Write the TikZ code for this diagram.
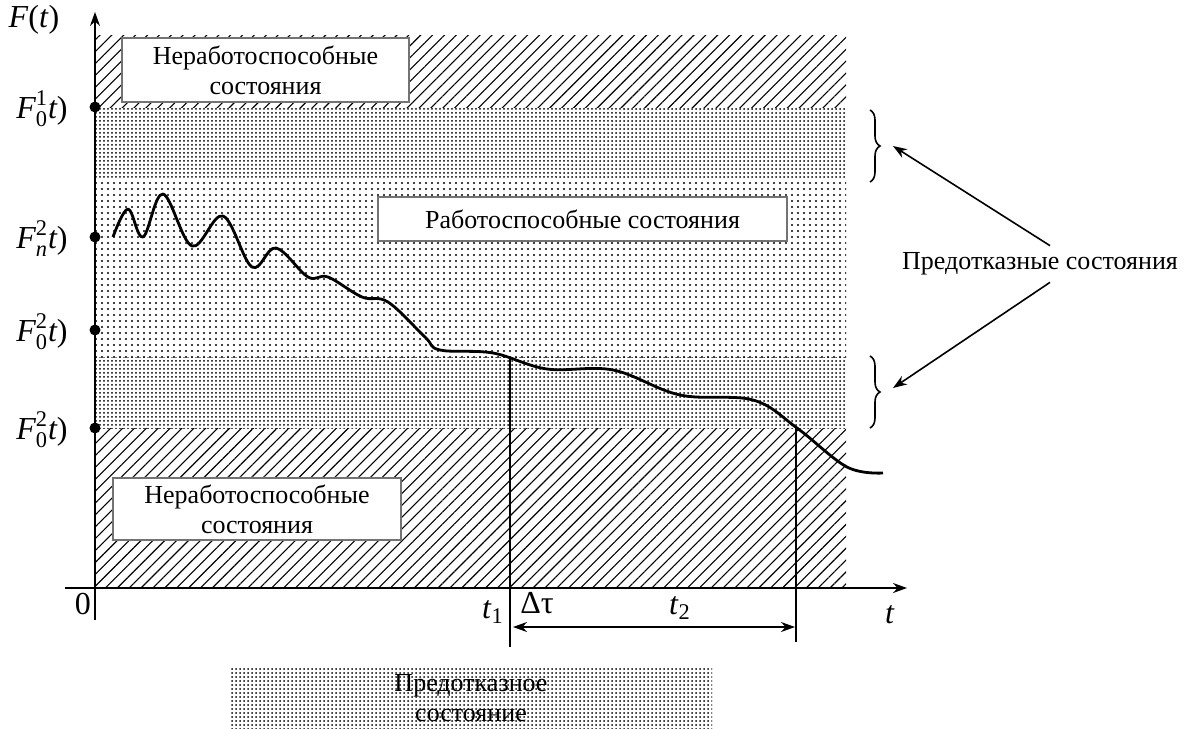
\documentclass[tikz,border=0pt]{standalone}
\usepackage{amsmath}
\usepackage{fontspec}
\setmainfont{Liberation Serif}
\usetikzlibrary{positioning,arrows.meta,patterns.meta,decorations.pathreplacing}

\begin{document}
\begin{tikzpicture}[x=0.5pt,y=-0.5pt,
  every node/.style={font=\fontsize{13}{15}\selectfont},
  statebox/.style={draw=black!55,line width=1pt,fill=white,align=center,inner sep=0pt},
  hatch/.style={pattern={Lines[angle=45,distance=4.2pt,line width=0.55pt]}},
  sparse/.style={pattern={Dots[radius=0.55pt,distance=3pt]}},
  dense/.style={pattern={Dots[radius=0.5pt,distance=2pt]}},
  arr/.style={-{Stealth[length=7pt,width=5pt]},line width=0.8pt},
  axislabel/.style={font=\fontsize{16}{19}\selectfont},
  level/.style={circle,fill,inner sep=0pt,minimum size=5.5pt}]
\useasboundingbox (0,0) rectangle (1190,729);
% zones
\fill[hatch] (95,35) rectangle (846,107);
\fill[dense] (95,107) rectangle (846,178);
\fill[sparse] (95,178) rectangle (846,357);
\fill[dense] (95,357) rectangle (846,428);
\fill[hatch] (95,428) rectangle (846,588);
% axes
\coordinate (ybot) at (95,620);
\coordinate (ytop) at (95,12);
\coordinate (xleft) at (65,588);
\coordinate (xright) at (907,588);
\draw[arr] (ybot) -- (ytop);
\draw[arr] (xleft) -- (xright);
\node[axislabel] (ft) at (34,20) {\textit{F}(\textit{t})};
\node[axislabel] (zero) at (83,604) {0};
\node[axislabel] (tax) at (890,615) {\textit{t}};
% levels
\node[level] (p1) at (95,107) {};
\node[level] (p2) at (95,237) {};
\node[level] (p3) at (95,330) {};
\node[level] (p4) at (95,428) {};
\node[axislabel] (l1) at (42,109) {$\textit{F}_{\text{0}}^{\text{1}}\textit{t}\text{)}$};
\node[axislabel] (l2) at (42,239) {$\textit{F}_{\textit{n}}^{\text{2}}\textit{t}\text{)}$};
\node[axislabel] (l3) at (42,332) {$\textit{F}_{\text{0}}^{\text{2}}\textit{t}\text{)}$};
\node[axislabel] (l4) at (42,430) {$\textit{F}_{\text{0}}^{\text{2}}\textit{t}\text{)}$};
% state boxes
\node[statebox,minimum width=143.5pt,minimum height=32pt] (bad1) at (265.5,70) {Неработоспособные\\состояния};
\node[statebox,minimum width=204.5pt,minimum height=22pt] (good) at (582.5,219) {Работоспособные состояния};
\node[statebox,minimum width=144pt,minimum height=31pt] (bad2) at (257,509) {Неработоспособные\\состояния};
% F(t) curve
\draw[line width=1.4pt,line join=round] plot[smooth,tension=0.6] coordinates {
  (113,237) (128,209) (143,237) (163,194) (192,246) (223,216) (252,267) (276,248)
  (308,277) (328,277) (362,297) (388,302) (425,337) (440,350) (493,353) (547,369)
  (613,370) (680,395) (753,400) (797,428) (847,467) (883,473)};
% t1, t2
\coordinate (t1top) at (510,357);
\coordinate (t1bot) at (510,647);
\coordinate (t2top) at (796,428);
\coordinate (t2bot) at (796,642);
\draw[line width=0.8pt] (t1top) -- (t1bot);
\draw[line width=0.8pt] (t2top) -- (t2bot);
\coordinate (dl) at (513,627);
\coordinate (dr) at (795,627);
\draw[{Stealth[length=7pt,width=5pt]}-{Stealth[length=7pt,width=5pt]},line width=0.8pt] (dl) -- (dr);
\node[axislabel] (t1lbl) at (493,612) {\textit{t}\textsubscript{1}};
\node[axislabel] (dtau) at (537,603) {Δτ};
\node[axislabel] (t2lbl) at (680,608) {\textit{t}\textsubscript{2}};
% pre-failure zones
\draw[decorate,decoration={brace,amplitude=5pt},line width=0.8pt] (870,110) -- (870,182);
\draw[decorate,decoration={brace,amplitude=5pt},line width=0.8pt] (870,356) -- (870,428);
\node (pre) at (1040,264) {Предотказные состояния};
\coordinate (br1) at (893,146);
\coordinate (br2) at (893,388);
\draw[arr] ([xshift=5pt]pre.north) -- (br1);
\draw[arr] ([xshift=5pt]pre.south) -- (br2);
% legend
\node[dense,minimum width=241pt,minimum height=31pt,align=center,inner sep=0pt] (legend) at (471,698) {Предотказное\\состояние};
\end{tikzpicture}
\end{document}
